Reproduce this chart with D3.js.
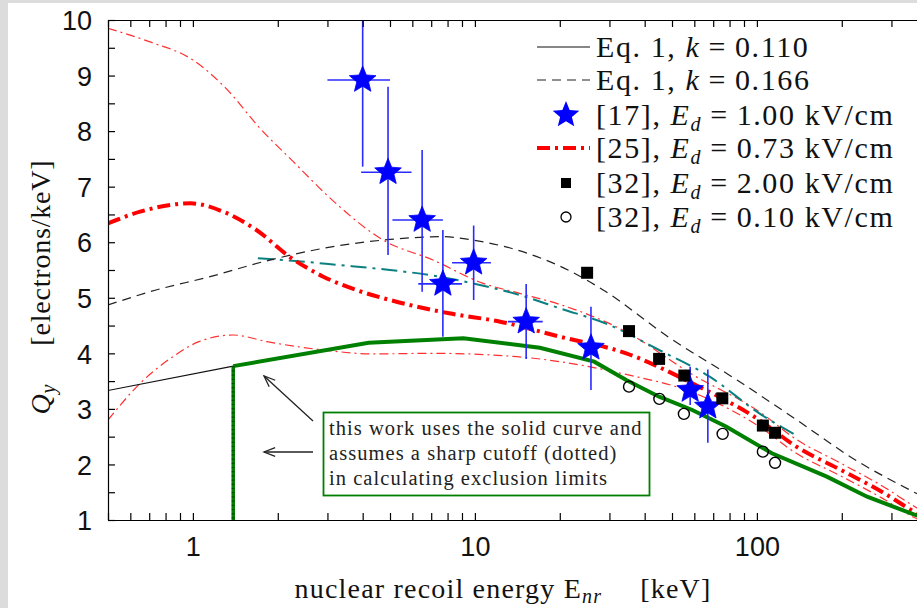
<!DOCTYPE html>
<html><head><meta charset="utf-8">
<script src="https://cdn.jsdelivr.net/npm/d3@7"></script>
<style>
html,body{margin:0;padding:0;background:#dcdcdc;}
svg{display:block;}
</style></head><body>
<svg id="chart" width="917" height="608"></svg>
<script>
// ---------- data ----------
const xTicks = [0.5,0.6,0.7,0.8,0.9,1,2,3,4,5,6,7,8,9,10,20,30,40,50,60,70,80,90,100,200,300,400];
const xTickLabels = [1, 10, 100];
const yTicks = [1,1.5,2,2.5,3,3.5,4,4.5,5,5.5,6,6.5,7,7.5,8,8.5,9,9.5,10];
const yTickLabels = [1,2,3,4,5,6,7,8,9,10];

// Eq. 1, k = 0.110 below the threshold (thin black)
const eqK110Low = [[0.5,3.33],[1.39,3.77]];
// Eq. 1, k = 0.110 as used in this work (thick green)
const thisWork = [[1.39,3.77],[4.2,4.19],[9.1,4.27],[17,4.10],[26.5,3.85],[34.4,3.52],[45,3.22],[59,2.98],[78,2.68],[113,2.20],[177,1.78],[246,1.42],[360,1.10],[420,1.0]];
const cutoffE = 1.39;
// Eq. 1, k = 0.166 (dashed black)
const eqK166 = [[0.5,4.87],[0.74,5.14],[1.15,5.38],[1.78,5.65],[2.9,5.89],[5.0,6.05],[7.7,6.10],[9.8,6.04],[14.1,5.86],[20.8,5.53],[28.5,5.14],[49,4.28],[85,3.52],[134,2.85],[232,2.03],[349,1.54],[450,1.25]];
// [25], E_d = 0.73 kV/cm: central curve and its band
const ref25 = [[0.5,6.34],[0.65,6.55],[0.98,6.70],[1.28,6.55],[1.68,6.22],[2.2,5.74],[2.9,5.38],[3.8,5.14],[5.0,4.96],[8.1,4.72],[12.3,4.57],[20,4.30],[34.4,4.0],[59,3.46],[102,2.80],[138,2.32],[197,1.91],[281,1.49],[360,1.15],[420,0.95]];
const ref25Upper = [[0.5,9.85],[0.7,9.61],[1.0,9.28],[1.31,8.77],[1.73,8.05],[2.27,7.45],[3.15,6.74],[4.72,6.04],[7.1,5.68],[10.7,5.26],[14.4,5.08],[20,4.88],[34,4.40],[59,3.62],[102,2.95],[138,2.45],[197,2.03],[281,1.60],[360,1.25],[420,1.05]];
const ref25Lower = [[0.5,2.80],[0.65,3.46],[0.85,3.94],[1.05,4.21],[1.39,4.33],[1.83,4.21],[2.9,4.06],[4.35,3.99],[7.1,4.0],[14.1,3.94],[20,3.85],[34.4,3.62],[59,3.30],[102,2.68],[138,2.20],[197,1.80],[281,1.38],[360,1.05],[420,0.9]];
// teal dash-dot curve
const tealCurve = [[1.70,5.71],[2.1,5.68],[3.3,5.59],[5.0,5.50],[7.5,5.38],[9.8,5.26],[14.4,5.05],[20,4.81],[30,4.51],[45,4.06],[68,3.58],[102,2.92],[135,2.55]];

// [17], E_d = 1.00 kV/cm
const starE   = [4.0, 4.92, 6.5, 7.7, 9.9, 15.2, 25.8, 58, 67];
const starQ   = [8.92, 7.26, 6.40, 5.25, 5.63, 4.57, 4.10, 3.34, 3.04];
const starQlo = [7.36, 5.77, 5.11, 4.30, 4.96, 3.90, 3.34, 3.07, 2.39];
const starQhi = [10.5, 8.80, 7.66, 6.22, 6.30, 5.25, 4.84, 3.76, 3.71];
const starElo = [3.0, 3.95, 5.1, 6.3, 8.3, 13.1, null, null, null];
const starEhi = [5.0, 5.96, 7.7, 9.0, 11.4, 17.4, null, null, null];

// [32], E_d = 2.00 kV/cm
const sqE = [25.0, 35.2, 45.0, 55.3, 75.4, 105, 116];
const sqQ = [5.45, 4.40, 3.90, 3.60, 3.19, 2.70, 2.57];
// [32], E_d = 0.10 kV/cm
const ciE = [35.2, 45.1, 55.1, 75.6, 105, 116];
const ciQ = [3.40, 3.18, 2.91, 2.55, 2.23, 2.03];

const noteLines = ["this work uses the solid curve and",
                   "assumes a sharp cutoff (dotted)",
                   "in calculating exclusion limits"];

// ---------- layout ----------
const svg = d3.select("#chart");
const W = 917, H = 608;
const L = 108, T = 20, B = 520, R = 954;
const serif = "'Liberation Serif','Times New Roman',serif";
const sans = "'Liberation Sans',Arial,Helvetica,sans-serif";

svg.append("rect").attr("x",0).attr("y",0).attr("width",W).attr("height",H).attr("fill","#dcdcdc");
svg.append("rect").attr("x",8).attr("y",3).attr("width",W-8).attr("height",H-3).attr("fill","#ffffff");

const x = d3.scaleLog().domain([0.5, 500]).range([L, R]);
const y = d3.scaleLinear().domain([1, 10]).range([B, T]);

svg.append("defs").append("clipPath").attr("id","plot")
  .append("rect").attr("x",L).attr("y",T).attr("width",R-L).attr("height",B-T);

const g = svg.append("g").attr("clip-path","url(#plot)");
const smooth = d3.line().x(d=>x(d[0])).y(d=>y(d[1])).curve(d3.curveMonotoneX);
const straight = d3.line().x(d=>x(d[0])).y(d=>y(d[1]));

function path(data, gen, stroke, width, dash){
  g.append("path").attr("d", gen(data)).attr("fill","none")
    .attr("stroke", stroke).attr("stroke-width", width)
    .attr("stroke-dasharray", dash || null);
}

// band of [25]
path(ref25Upper, smooth, "#ff3030", 1.2, "9,4,2,4");
path(ref25Lower, smooth, "#ff3030", 1.2, "9,4,2,4");
// teal
path(tealCurve, smooth, "#0b8080", 2, "16,6,3,6");
// k = 0.166
path(eqK166, smooth, "#222", 1.2, "9,6");
// central [25]
path(ref25, smooth, "#ff0000", 4, "13,5,3,5");
// k = 0.110
path(eqK110Low, straight, "#111", 1.1);
path(thisWork, straight, "#008000", 4);
// sharp cutoff
g.append("line").attr("x1",x(cutoffE)).attr("x2",x(cutoffE))
  .attr("y1",y(thisWork[0][1])).attr("y2",y(1))
  .attr("stroke","#008000").attr("stroke-width",3.5);
g.append("line").attr("x1",x(cutoffE)).attr("x2",x(cutoffE))
  .attr("y1",y(thisWork[0][1])).attr("y2",y(1))
  .attr("stroke","#0a4a0a").attr("stroke-width",3).attr("stroke-dasharray","1.2,3");

// error bars for [17]
const eb = g.append("g").attr("stroke","#2a2aff").attr("stroke-width",1.6);
starE.forEach((e,i)=>{
  eb.append("line").attr("x1",x(e)).attr("x2",x(e)).attr("y1",y(starQlo[i])).attr("y2",y(starQhi[i]));
  if(starElo[i]!==null){
    eb.append("line").attr("x1",x(starElo[i])).attr("x2",x(starEhi[i])).attr("y1",y(starQ[i])).attr("y2",y(starQ[i]));
  }
});

function starPath(R, r){
  const pts=[];
  for(let k=0;k<10;k++){
    const a = -Math.PI/2 + k*Math.PI/5;
    const rr = k%2===0 ? R : r;
    pts.push([rr*Math.cos(a), rr*Math.sin(a)]);
  }
  return "M"+pts.map(p=>p[0].toFixed(2)+","+p[1].toFixed(2)).join("L")+"Z";
}
const starD = starPath(14, 6.2);
starE.forEach((e,i)=>{
  g.append("path").attr("d",starD).attr("transform",`translate(${x(e)},${y(starQ[i])})`)
    .attr("fill","#0000ff").attr("stroke","#0000ff").attr("stroke-width",0.8);
});
sqE.forEach((e,i)=>{
  g.append("rect").attr("x",x(e)-6).attr("y",y(sqQ[i])-6).attr("width",12).attr("height",12).attr("fill","#000");
});
ciE.forEach((e,i)=>{
  g.append("circle").attr("cx",x(e)).attr("cy",y(ciQ[i])).attr("r",5.5)
    .attr("fill","none").attr("stroke","#000").attr("stroke-width",1.4);
});

// note box and arrows
const note = svg.append("g");
note.append("rect").attr("x",323.5).attr("y",412.5).attr("width",326).attr("height",83)
  .attr("fill","#fff").attr("stroke","#008000").attr("stroke-width",1.8);
noteLines.forEach((t,i)=>{
  note.append("text").attr("x",329).attr("y",435+i*25).text(t)
    .attr("font-family",serif).attr("font-size",20.5).attr("letter-spacing",1.05).attr("fill","#222");
});
function arrow(x1,y1,x2,y2){
  const a = Math.atan2(y2-y1,x2-x1), h=12, s=0.38;
  note.append("line").attr("x1",x1).attr("y1",y1).attr("x2",x2).attr("y2",y2)
    .attr("stroke","#222").attr("stroke-width",1.3);
  note.append("path").attr("d",
    `M${x2-h*Math.cos(a-s)},${y2-h*Math.sin(a-s)}L${x2},${y2}L${x2-h*Math.cos(a+s)},${y2-h*Math.sin(a+s)}`)
    .attr("fill","none").attr("stroke","#222").attr("stroke-width",1.3);
}
arrow(313,421,264,376);
arrow(313,452,264,452);

// axes
const fmtX = d => xTickLabels.includes(d) ? String(d) : "";
const fmtY = d => yTickLabels.includes(d) ? String(d) : "";
const axB = svg.append("g").attr("transform",`translate(0,${B})`)
  .call(d3.axisBottom(x).tickValues(xTicks).tickFormat(fmtX).tickSizeInner(-7).tickSizeOuter(0).tickPadding(17));
const axT = svg.append("g").attr("transform",`translate(0,${T})`)
  .call(d3.axisTop(x).tickValues(xTicks).tickFormat("").tickSizeInner(-7).tickSizeOuter(0));
const axL = svg.append("g").attr("transform",`translate(${L},0)`)
  .call(d3.axisLeft(y).tickValues(yTicks).tickFormat(fmtY).tickSizeInner(-7).tickSizeOuter(0).tickPadding(16));
[axB,axT,axL].forEach(a=>{
  a.selectAll("path,line").attr("stroke","#000").attr("stroke-width",1.2);
  a.selectAll("text").attr("font-family",sans).attr("font-size",27).attr("fill","#111");
});
axL.selectAll("text").attr("dy","0.36em");

// axis titles
const xt = svg.append("text").attr("x",503).attr("y",598).attr("text-anchor","middle")
  .attr("font-family",serif).attr("font-size",28).attr("letter-spacing",1.2).attr("fill","#111");
xt.append("tspan").text("nuclear recoil energy E");
xt.append("tspan").text("nr").attr("font-style","italic").attr("font-size",20).attr("dy",5);
xt.append("tspan").text("[keV]").attr("dy",-5).attr("dx",38);

const yt = svg.append("text").attr("transform","translate(50,287) rotate(-90)").attr("text-anchor","middle")
  .attr("font-family",serif).attr("font-size",28).attr("letter-spacing",0.8).attr("fill","#111");
yt.append("tspan").text("Q").attr("font-style","italic");
yt.append("tspan").text("y").attr("font-style","italic").attr("font-size",20).attr("dy",5);
yt.append("tspan").text("[electrons/keV]").attr("dy",-5).attr("dx",38);

// legend
const legY = [47, 80, 115, 148, 183, 217];
const leg = svg.append("g");
const lx0 = 537, lx1 = 590, tx = 596;
leg.append("line").attr("x1",lx0).attr("x2",lx1).attr("y1",legY[0]).attr("y2",legY[0]).attr("stroke","#111").attr("stroke-width",1.2);
leg.append("line").attr("x1",lx0).attr("x2",lx1).attr("y1",legY[1]).attr("y2",legY[1]).attr("stroke","#222").attr("stroke-width",1.2).attr("stroke-dasharray","9,6");
leg.append("path").attr("d",starD).attr("transform",`translate(566,${legY[2]})`).attr("fill","#0000ff");
leg.append("line").attr("x1",lx0).attr("x2",lx1).attr("y1",legY[3]).attr("y2",legY[3]).attr("stroke","#ff0000").attr("stroke-width",4).attr("stroke-dasharray","13,5,3,5");
leg.append("rect").attr("x",561).attr("y",legY[4]-5).attr("width",10).attr("height",10).attr("fill","#000");
leg.append("circle").attr("cx",566).attr("cy",legY[5]).attr("r",5).attr("fill","none").attr("stroke","#000").attr("stroke-width",1.3);

function legText(i, parts){
  const t = leg.append("text").attr("x",tx).attr("y",legY[i]+10).attr("font-family",serif)
    .attr("font-size",30).attr("letter-spacing",1.6).attr("fill","#111");
  parts.forEach(p=>{
    const s = t.append("tspan").text(p.t);
    if(p.i) s.attr("font-style","italic");
    if(p.sub) s.attr("font-size",20).attr("dy",6);
    if(p.up) s.attr("dy",-6);
    if(p.dx) s.attr("dx",p.dx);
  });
}
legText(0,[{t:"Eq. 1, "},{t:"k",i:1},{t:"=",dx:8},{t:"0.110",dx:8}]);
legText(1,[{t:"Eq. 1, "},{t:"k",i:1},{t:"=",dx:8},{t:"0.166",dx:8}]);
legText(2,[{t:"[17], "},{t:"E",i:1},{t:"d",i:1,sub:1},{t:"=",up:1,dx:8},{t:"1.00 kV/cm",dx:8}]);
legText(3,[{t:"[25], "},{t:"E",i:1},{t:"d",i:1,sub:1},{t:"=",up:1,dx:8},{t:"0.73 kV/cm",dx:8}]);
legText(4,[{t:"[32], "},{t:"E",i:1},{t:"d",i:1,sub:1},{t:"=",up:1,dx:8},{t:"2.00 kV/cm",dx:8}]);
legText(5,[{t:"[32], "},{t:"E",i:1},{t:"d",i:1,sub:1},{t:"=",up:1,dx:8},{t:"0.10 kV/cm",dx:8}]);
</script>
</body></html>
